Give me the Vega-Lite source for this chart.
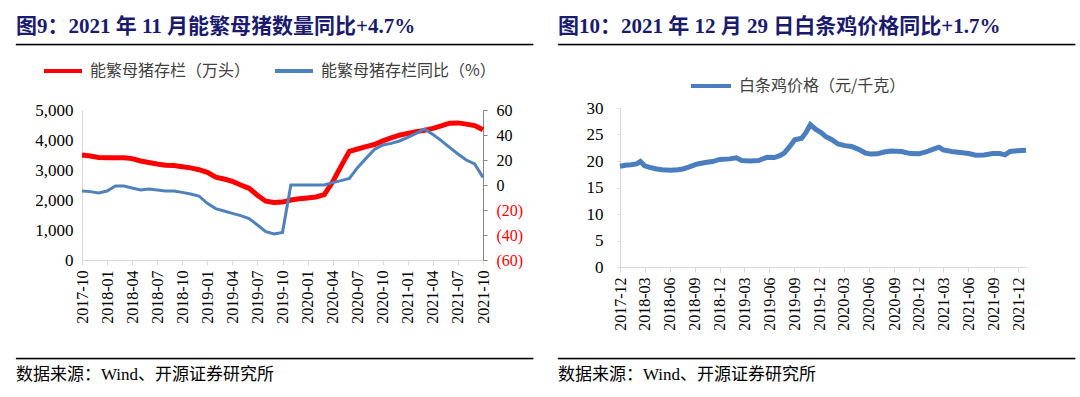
{
  "$schema": "https://vega.github.io/schema/vega-lite/v6.json",
  "padding": {"left": 15, "top": 15, "right": 0, "bottom": 0},
  "columns": 2,
  "align": "none",
  "spacing": 23,
  "resolve": {"scale": {"color": "independent"}, "legend": {"color": "independent"}},
  "concat": [
    {
      "columns": 1,
      "spacing": 4,
      "resolve": {"scale": {"color": "independent"}, "legend": {"color": "independent"}},
      "concat": [
        {
          "width": 517, "height": 1,
          "data": {"values": []},
          "mark": "point",
          "encoding": {},
          "view": {"fill": "#000000", "stroke": "#000000", "strokeWidth": 0.6},
          "title": {"text": "图9：2021 年 11 月能繁母猪数量同比+4.7%", "anchor": "start", "orient": "top", "offset": 7, "fontSize": 21, "fontWeight": "bold", "font": "Liberation Serif, Noto Sans CJK SC", "color": "#1a1a6e"}
        },
        {
          "spacing": 0,
          "hconcat": [
            {
              "width": 1, "height": 1,
              "data": {"values": []},
              "mark": "point",
              "encoding": {}
            },
            {
              "width": 401, "height": 150,
              "data": {"values": [
                {"m": "2017-10", "s": 3500, "y": -4.8},
                {"m": "2017-11", "s": 3467, "y": -5.3},
                {"m": "2017-12", "s": 3420, "y": -6.4},
                {"m": "2018-01", "s": 3410, "y": -4.8},
                {"m": "2018-02", "s": 3410, "y": -0.8},
                {"m": "2018-03", "s": 3410, "y": -0.8},
                {"m": "2018-04", "s": 3380, "y": -2.4},
                {"m": "2018-05", "s": 3300, "y": -4.0},
                {"m": "2018-06", "s": 3250, "y": -3.2},
                {"m": "2018-07", "s": 3200, "y": -4.0},
                {"m": "2018-08", "s": 3160, "y": -4.8},
                {"m": "2018-09", "s": 3150, "y": -4.8},
                {"m": "2018-10", "s": 3110, "y": -5.9},
                {"m": "2018-11", "s": 3070, "y": -7.2},
                {"m": "2018-12", "s": 3010, "y": -8.8},
                {"m": "2019-01", "s": 2920, "y": -14.7},
                {"m": "2019-02", "s": 2760, "y": -18.9},
                {"m": "2019-03", "s": 2700, "y": -20.8},
                {"m": "2019-04", "s": 2620, "y": -22.7},
                {"m": "2019-05", "s": 2500, "y": -24.5},
                {"m": "2019-06", "s": 2390, "y": -26.9},
                {"m": "2019-07", "s": 2160, "y": -32.0},
                {"m": "2019-08", "s": 1960, "y": -37.3},
                {"m": "2019-09", "s": 1920, "y": -39.2},
                {"m": "2019-10", "s": 1930, "y": -37.9},
                {"m": "2019-11", "s": 2000, "y": 0},
                {"m": "2019-12", "s": 2040, "y": 0},
                {"m": "2020-01", "s": 2070, "y": 0},
                {"m": "2020-02", "s": 2100, "y": 0},
                {"m": "2020-03", "s": 2180, "y": 0},
                {"m": "2020-04", "s": 2600, "y": 1.9},
                {"m": "2020-05", "s": 3120, "y": 3.5},
                {"m": "2020-06", "s": 3620, "y": 5.3},
                {"m": "2020-07", "s": 3700, "y": 14.1},
                {"m": "2020-08", "s": 3780, "y": 21.3},
                {"m": "2020-09", "s": 3850, "y": 28.5},
                {"m": "2020-10", "s": 3970, "y": 32.0},
                {"m": "2020-11", "s": 4070, "y": 33.3},
                {"m": "2020-12", "s": 4160, "y": 35.2},
                {"m": "2021-01", "s": 4220, "y": 38.1},
                {"m": "2021-02", "s": 4280, "y": 41.3},
                {"m": "2021-03", "s": 4320, "y": 44.8},
                {"m": "2021-04", "s": 4390, "y": 40.5},
                {"m": "2021-05", "s": 4470, "y": 35.5},
                {"m": "2021-06", "s": 4560, "y": 30.1},
                {"m": "2021-07", "s": 4570, "y": 24.8},
                {"m": "2021-08", "s": 4530, "y": 20.0},
                {"m": "2021-09", "s": 4480, "y": 16.8},
                {"m": "2021-10", "s": 4340, "y": 6.1}
              ]},
              "encoding": {
                "x": {"field": "m", "type": "ordinal", "sort": null, "scale": {"type": "point", "padding": 0},
                  "axis": {"title": null, "values": ["2017-10","2018-01","2018-04","2018-07","2018-10","2019-01","2019-04","2019-07","2019-10","2020-01","2020-04","2020-07","2020-10","2021-01","2021-04","2021-07","2021-10"],
                    "labelAngle": 270, "labelFontSize": 16, "labelPadding": 5, "domainColor": "#d9d9d9", "tickColor": "#d9d9d9", "tickSize": 5, "minExtent": 93, "grid": false}}
              },
              "layer": [
                {
                  "mark": {"type": "line", "strokeWidth": 5},
                  "encoding": {
                    "y": {"field": "s", "type": "quantitative", "scale": {"domain": [0, 5000]},
                      "axis": {"title": null, "values": [0,1000,2000,3000,4000,5000], "format": ",.0f", "labelFontSize": 17, "labelPadding": 9, "ticks": false, "domainColor": "#d9d9d9", "minExtent": 65, "grid": false}},
                    "color": {"datum": "能繁母猪存栏（万头）", "scale": {"domain": ["能繁母猪存栏（万头）", "能繁母猪存栏同比（%）"], "range": ["#ff0000", "#4f81bd"]},
                      "legend": {"title": null, "orient": "top", "direction": "horizontal", "symbolType": "stroke", "symbolStrokeWidth": 4, "symbolSize": 1444, "labelFontSize": 16, "labelFont": "Noto Sans CJK SC", "labelColor": "#404040", "labelOffset": 6, "columnPadding": 16, "labelLimit": 400, "offset": 22}}
                  }
                },
                {
                  "mark": {"type": "line", "strokeWidth": 3},
                  "encoding": {
                    "y": {"field": "y", "type": "quantitative", "scale": {"domain": [-60, 60]},
                      "axis": {"title": null, "orient": "right", "values": [-60,-40,-20,0,20,40,60], "labelExpr": "datum.value < 0 ? '(' + abs(datum.value) + ')' : datum.label", "labelColor": {"condition": {"test": "datum.value < 0", "value": "#ff0000"}, "value": "#000000"}, "labelFontSize": 16, "labelPadding": 9, "tickSize": 4, "tickColor": "#868686", "domainColor": "#868686", "grid": false}},
                    "color": {"datum": "能繁母猪存栏同比（%）"}
                  }
                }
              ],
              "resolve": {"scale": {"y": "independent"}}
            }
          ]
        },
        {
          "width": 517, "height": 1,
          "data": {"values": []},
          "mark": "point",
          "encoding": {},
          "view": {"fill": "#000000", "stroke": "#000000", "strokeWidth": 0.6},
          "title": {"text": "数据来源：Wind、开源证券研究所", "anchor": "start", "orient": "bottom", "offset": 8, "fontSize": 17, "fontWeight": "normal", "font": "Liberation Serif, Noto Sans CJK SC", "color": "#000000"}
        }
      ]
    },
    {
      "columns": 1,
      "spacing": 14,
      "resolve": {"scale": {"color": "independent"}, "legend": {"color": "independent"}},
      "concat": [
        {
          "width": 517, "height": 1,
          "data": {"values": []},
          "mark": "point",
          "encoding": {},
          "view": {"fill": "#000000", "stroke": "#000000", "strokeWidth": 0.6},
          "title": {"text": "图10：2021 年 12 月 29 日白条鸡价格同比+1.7%", "anchor": "start", "orient": "top", "offset": 7, "fontSize": 21, "fontWeight": "bold", "font": "Liberation Serif, Noto Sans CJK SC", "color": "#1a1a6e"}
        },
        {
          "spacing": 0,
          "hconcat": [
            {
              "width": 1, "height": 1,
              "data": {"values": []},
              "mark": "point",
              "encoding": {}
            },
            {
              "width": 406, "height": 159,
              "data": {"values": [
                {"d": "2017-12-01T00:00:00", "p": 19.0},
                {"d": "2017-12-20T00:00:00", "p": 19.2},
                {"d": "2018-01-10T00:00:00", "p": 19.3},
                {"d": "2018-01-31T00:00:00", "p": 19.45},
                {"d": "2018-02-14T00:00:00", "p": 19.9},
                {"d": "2018-03-01T00:00:00", "p": 19.1},
                {"d": "2018-03-20T00:00:00", "p": 18.8},
                {"d": "2018-04-10T00:00:00", "p": 18.55},
                {"d": "2018-05-04T00:00:00", "p": 18.35},
                {"d": "2018-06-05T00:00:00", "p": 18.25},
                {"d": "2018-07-01T00:00:00", "p": 18.35},
                {"d": "2018-07-20T00:00:00", "p": 18.5},
                {"d": "2018-08-10T00:00:00", "p": 18.85},
                {"d": "2018-09-08T00:00:00", "p": 19.4},
                {"d": "2018-10-10T00:00:00", "p": 19.7},
                {"d": "2018-11-05T00:00:00", "p": 19.9},
                {"d": "2018-12-02T00:00:00", "p": 20.3},
                {"d": "2019-01-07T00:00:00", "p": 20.4},
                {"d": "2019-02-01T00:00:00", "p": 20.6},
                {"d": "2019-02-20T00:00:00", "p": 20.1},
                {"d": "2019-03-22T00:00:00", "p": 20.0},
                {"d": "2019-04-23T00:00:00", "p": 20.1},
                {"d": "2019-05-24T00:00:00", "p": 20.7},
                {"d": "2019-06-20T00:00:00", "p": 20.65},
                {"d": "2019-07-10T00:00:00", "p": 21.0},
                {"d": "2019-07-26T00:00:00", "p": 21.5},
                {"d": "2019-08-15T00:00:00", "p": 22.7},
                {"d": "2019-09-03T00:00:00", "p": 24.0},
                {"d": "2019-09-28T00:00:00", "p": 24.3},
                {"d": "2019-10-13T00:00:00", "p": 25.3},
                {"d": "2019-10-30T00:00:00", "p": 26.85},
                {"d": "2019-11-18T00:00:00", "p": 26.0},
                {"d": "2019-12-07T00:00:00", "p": 25.4},
                {"d": "2019-12-26T00:00:00", "p": 24.6},
                {"d": "2020-01-14T00:00:00", "p": 24.1},
                {"d": "2020-02-09T00:00:00", "p": 23.2},
                {"d": "2020-03-04T00:00:00", "p": 22.9},
                {"d": "2020-03-29T00:00:00", "p": 22.75},
                {"d": "2020-04-24T00:00:00", "p": 22.2},
                {"d": "2020-05-19T00:00:00", "p": 21.5},
                {"d": "2020-06-07T00:00:00", "p": 21.3},
                {"d": "2020-07-02T00:00:00", "p": 21.35},
                {"d": "2020-07-27T00:00:00", "p": 21.7},
                {"d": "2020-08-22T00:00:00", "p": 21.9},
                {"d": "2020-09-29T00:00:00", "p": 21.8},
                {"d": "2020-10-31T00:00:00", "p": 21.4},
                {"d": "2020-12-01T00:00:00", "p": 21.35},
                {"d": "2020-12-27T00:00:00", "p": 21.7},
                {"d": "2021-01-21T00:00:00", "p": 22.2},
                {"d": "2021-02-13T00:00:00", "p": 22.6},
                {"d": "2021-02-28T00:00:00", "p": 22.1},
                {"d": "2021-04-01T00:00:00", "p": 21.8},
                {"d": "2021-05-01T00:00:00", "p": 21.6},
                {"d": "2021-06-02T00:00:00", "p": 21.4},
                {"d": "2021-06-27T00:00:00", "p": 21.1},
                {"d": "2021-07-28T00:00:00", "p": 21.15},
                {"d": "2021-08-29T00:00:00", "p": 21.4},
                {"d": "2021-09-24T00:00:00", "p": 21.4},
                {"d": "2021-10-13T00:00:00", "p": 21.15},
                {"d": "2021-11-01T00:00:00", "p": 21.8},
                {"d": "2021-11-27T00:00:00", "p": 21.95},
                {"d": "2021-12-29T00:00:00", "p": 22.05}
              ]},
              "mark": {"type": "line", "strokeWidth": 5},
              "encoding": {
                "x": {"field": "d", "type": "temporal",
                  "scale": {"domain": [{"year": 2017, "month": 12, "date": 1}, {"year": 2021, "month": 12, "date": 29}]},
                  "axis": {"title": null, "format": "%Y-%m", "values": [
                    {"year": 2017, "month": 12, "date": 1}, {"year": 2018, "month": 3, "date": 1}, {"year": 2018, "month": 6, "date": 1}, {"year": 2018, "month": 9, "date": 1},
                    {"year": 2018, "month": 12, "date": 1}, {"year": 2019, "month": 3, "date": 1}, {"year": 2019, "month": 6, "date": 1}, {"year": 2019, "month": 9, "date": 1},
                    {"year": 2019, "month": 12, "date": 1}, {"year": 2020, "month": 3, "date": 1}, {"year": 2020, "month": 6, "date": 1}, {"year": 2020, "month": 9, "date": 1},
                    {"year": 2020, "month": 12, "date": 1}, {"year": 2021, "month": 3, "date": 1}, {"year": 2021, "month": 6, "date": 1}, {"year": 2021, "month": 9, "date": 1},
                    {"year": 2021, "month": 12, "date": 1}],
                    "labelAngle": 270, "labelFontSize": 16, "labelPadding": 5, "domainColor": "#d9d9d9", "tickColor": "#d9d9d9", "tickSize": 5, "minExtent": 76, "grid": false}},
                "y": {"field": "p", "type": "quantitative", "scale": {"domain": [0, 30]},
                  "axis": {"title": null, "values": [0,5,10,15,20,25,30], "labelFontSize": 17, "labelPadding": 14, "tickSize": 3, "tickColor": "#d9d9d9", "domainColor": "#d9d9d9", "minExtent": 61, "grid": false}},
                "color": {"datum": "白条鸡价格（元/千克）", "scale": {"range": ["#4a7ebe"]},
                  "legend": {"title": null, "orient": "top", "direction": "horizontal", "symbolType": "stroke", "symbolStrokeWidth": 4, "symbolSize": 1600, "labelFontSize": 16, "labelFont": "Noto Sans CJK SC", "labelColor": "#404040", "labelOffset": 6, "labelLimit": 400, "padding": 4, "offset": 1}}
              }
            }
          ]
        },
        {
          "width": 517, "height": 1,
          "data": {"values": []},
          "mark": "point",
          "encoding": {},
          "view": {"fill": "#000000", "stroke": "#000000", "strokeWidth": 0.6},
          "title": {"text": "数据来源：Wind、开源证券研究所", "anchor": "start", "orient": "bottom", "offset": 8, "fontSize": 17, "fontWeight": "normal", "font": "Liberation Serif, Noto Sans CJK SC", "color": "#000000"}
        }
      ]
    }
  ],
  "config": {
    "font": "Liberation Serif",
    "view": {"stroke": null},
    "axis": {"labelFont": "Liberation Serif", "labelColor": "#000000"},
    "legend": {"layout": {"top": {"anchor": "middle"}}}
  }
}
